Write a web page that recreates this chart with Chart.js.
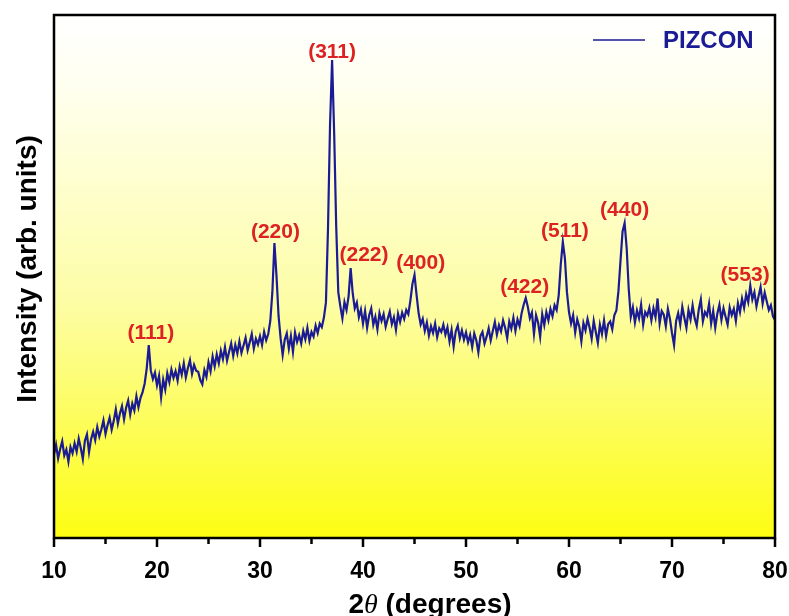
<!DOCTYPE html>
<html>
<head>
<meta charset="utf-8">
<title>PIZCON XRD</title>
<script src="https://cdn.jsdelivr.net/npm/chart.js@4.4.0/dist/chart.umd.min.js"></script>
<style>
  html, body { margin: 0; padding: 0; background: #fff; }
</style>
</head>
<body>
<canvas id="xrdChart" width="789" height="616"></canvas>
<script>
// scan grid (degrees 2-theta)
const twoThetaStart = 10;
const twoThetaStep = 0.2;

// measured intensity, arb. units, one row per 2 degrees
const intensity = [
  16.0, 17.8, 15.2, 17.0, 18.5, 15.8, 16.9, 14.6, 17.4, 16.2,
  18.1, 16.5, 19.0, 17.2, 15.1, 18.6, 19.8, 16.4, 18.9, 20.3,
  18.7, 21.2, 19.4, 20.8, 22.5, 19.9, 21.6, 23.0, 20.7, 22.4,
  24.6, 21.9, 23.8, 25.2, 22.7, 24.9, 26.3, 23.6, 25.7, 24.4,
  27.1, 25.0, 26.8, 27.9, 29.5, 32.4, 36.9, 32.0, 30.4, 31.6,
  29.2, 31.0, 26.9, 30.3, 28.4, 31.5, 29.8, 32.2, 30.6, 31.9,
  30.1, 32.8, 31.2, 33.4, 30.7, 32.5, 34.0, 31.4, 33.1, 32.0,
  31.8, 30.2, 29.4, 32.1, 30.8, 33.6, 31.9, 34.7, 32.8, 35.1,
  33.4, 35.8, 34.2, 36.5, 33.9, 35.6, 37.2, 34.8, 36.9, 35.3,
  37.6, 35.4, 36.8, 38.3, 35.9, 37.4, 39.0, 36.2, 38.1, 37.0,
  38.6, 36.9, 39.4, 37.8, 39.0, 41.5, 47.0, 56.4, 50.2, 42.5,
  38.2, 35.0, 37.9, 39.1, 36.2, 38.6, 35.6, 39.3, 37.5, 38.8,
  37.2, 39.6, 38.0, 40.2, 37.7, 39.4, 38.5, 40.6, 39.2, 41.0,
  40.3, 42.1, 45.0, 59.0, 79.0, 91.4, 77.5, 59.5, 47.0, 44.3,
  42.0, 45.1, 43.6, 46.2, 51.6, 46.8, 43.9, 45.0, 42.2, 43.7,
  41.0, 43.4, 40.2, 42.6, 43.9, 40.8, 42.3, 39.9, 43.0, 41.5,
  42.8, 40.4, 41.9, 43.3, 40.9, 42.2, 39.8, 42.9, 41.3, 43.1,
  41.9, 43.6, 42.8, 45.4, 48.6, 50.3, 46.5, 43.0, 40.8, 41.9,
  39.6, 41.2, 38.7, 40.5, 39.2, 41.0, 38.4, 40.1, 39.4, 40.8,
  38.9, 40.3, 37.6, 39.8, 36.6, 39.5, 40.6, 38.2, 39.7, 37.9,
  39.3, 37.4, 38.8, 36.5, 39.1, 37.8, 35.5, 38.6, 39.4, 37.2,
  38.5, 40.1, 37.8, 39.6, 41.3, 38.9, 40.7, 39.5, 41.6, 40.2,
  38.2, 41.4, 40.0, 42.1, 39.6, 41.8, 40.5, 43.0, 44.6, 45.9,
  44.2, 42.0, 43.1, 39.0, 42.6, 41.2, 38.5, 42.8, 40.7, 43.2,
  41.6, 43.8, 42.4, 44.5, 43.6, 46.4, 52.3, 56.6, 53.5, 47.0,
  43.2, 41.0, 42.6, 39.3, 41.8, 40.4, 37.6, 41.1, 39.7, 41.9,
  40.2, 38.1, 41.5, 39.4, 37.3, 40.8, 39.0, 41.6, 38.6, 40.9,
  41.4, 39.9, 42.6, 43.5, 47.2, 53.0, 58.6, 60.2, 55.4, 47.6,
  42.3, 44.1, 41.2, 43.5, 42.0, 44.6, 40.8, 43.2, 42.5, 44.0,
  41.6, 43.9, 42.2, 45.8, 41.0, 43.4, 42.7, 40.5, 43.8, 41.9,
  39.2, 36.9, 41.5, 43.0, 40.8, 44.2, 42.1, 40.2, 43.6, 41.8,
  44.5, 42.0, 40.6, 43.7, 45.6, 41.4, 43.2, 42.5, 44.8, 41.0,
  43.4, 40.2, 42.9, 44.6, 41.7, 43.9, 42.3, 40.8, 44.1, 42.6,
  43.8, 41.5, 44.9, 43.2, 45.8, 44.0, 46.6, 45.1, 48.3, 45.6,
  47.0, 44.3, 46.2, 48.0, 44.8, 46.9, 45.2, 43.6, 44.5, 42.4,
  41.7
];

// Miller indices of the spinel reflections and where their tags sit
const peakLabels = ["(111)", "(220)", "(311)", "(222)", "(400)", "(422)", "(511)", "(440)", "(553)"];
const peakLabelAngles = [19.4, 31.5, 37.0, 40.1, 45.6, 55.7, 59.6, 65.4, 77.1];
const peakLabelHeights = [39.2, 58.5, 92.9, 54.1, 52.6, 48.0, 58.7, 62.7, 50.3];

const seriesName = "PIZCON";
const xMajorTicks = [10, 20, 30, 40, 50, 60, 70, 80];
const xMinorTicks = [15, 25, 35, 45, 55, 65, 75];

const lineColor = "#1b1b96";
const labelColor = "#dc2222";
const fontFamily = "'Liberation Sans', Arial, sans-serif";

const points = intensity.map((v, i) => ({
  x: +(twoThetaStart + i * twoThetaStep).toFixed(1),
  y: v,
}));

// yellow fade behind the plot
const plotBackground = {
  id: "plotBackground",
  beforeDraw(chart) {
    const { ctx, chartArea: a } = chart;
    const g = ctx.createLinearGradient(0, a.top, 0, a.bottom);
    g.addColorStop(0, "#ffffff");
    g.addColorStop(0.12, "#fffff2");
    g.addColorStop(0.55, "#fdfda6");
    g.addColorStop(1, "#fdfd12");
    ctx.save();
    ctx.fillStyle = g;
    ctx.fillRect(a.left, a.top, a.right - a.left, a.bottom - a.top);
    ctx.restore();
  },
};

// hkl tags above the reflections
const peakTags = {
  id: "peakTags",
  afterDatasetsDraw(chart) {
    const { ctx, scales } = chart;
    ctx.save();
    ctx.fillStyle = labelColor;
    ctx.font = "bold 21px " + fontFamily;
    ctx.textAlign = "center";
    ctx.textBaseline = "middle";
    peakLabels.forEach((t, i) => {
      ctx.fillText(t, scales.x.getPixelForValue(peakLabelAngles[i]), scales.y.getPixelForValue(peakLabelHeights[i]));
    });
    ctx.restore();
  },
};

// box frame, bottom ticks, axis titles and legend
const frameAndTitles = {
  id: "frameAndTitles",
  afterDraw(chart) {
    const { ctx, chartArea: a, scales } = chart;
    ctx.save();
    ctx.strokeStyle = "#000";
    ctx.lineWidth = 2.5;
    ctx.strokeRect(a.left, a.top, a.right - a.left, a.bottom - a.top);

    ctx.beginPath();
    xMajorTicks.forEach((v) => {
      const px = scales.x.getPixelForValue(v);
      ctx.moveTo(px, a.bottom);
      ctx.lineTo(px, a.bottom + 9);
    });
    xMinorTicks.forEach((v) => {
      const px = scales.x.getPixelForValue(v);
      ctx.moveTo(px, a.bottom);
      ctx.lineTo(px, a.bottom + 6);
    });
    ctx.stroke();

    // y title
    ctx.fillStyle = "#000";
    ctx.save();
    ctx.translate(28, 269);
    ctx.rotate(-Math.PI / 2);
    ctx.font = "bold 28px " + fontFamily;
    ctx.textAlign = "center";
    ctx.textBaseline = "middle";
    ctx.fillText("Intensity (arb. units)", 0, 0);
    ctx.restore();

    // x title: 2θ (degrees) with italic theta
    const parts = [
      ["2", "bold 28px " + fontFamily],
      ["\u03b8", "italic 28px 'Liberation Serif', serif"],
      [" (degrees)", "bold 28px " + fontFamily],
    ];
    let total = 0;
    parts.forEach(([t, f]) => { ctx.font = f; total += ctx.measureText(t).width; });
    let x = 430 - total / 2;
    ctx.textAlign = "left";
    ctx.textBaseline = "alphabetic";
    parts.forEach(([t, f]) => {
      ctx.font = f;
      ctx.fillText(t, x, 613);
      x += ctx.measureText(t).width;
    });

    // legend
    ctx.strokeStyle = lineColor;
    ctx.lineWidth = 1.6;
    ctx.beginPath();
    ctx.moveTo(593, 40);
    ctx.lineTo(645, 40);
    ctx.stroke();
    ctx.fillStyle = lineColor;
    ctx.font = "bold 24px " + fontFamily;
    ctx.textBaseline = "middle";
    ctx.fillText(seriesName, 663, 41);
    ctx.restore();
  },
};

const ctx = document.getElementById("xrdChart").getContext("2d");
const xrdChart = new Chart(ctx, {
  type: "line",
  data: {
    datasets: [
      {
        label: seriesName,
        data: points,
        borderColor: lineColor,
        borderWidth: 2.2,
        pointRadius: 0,
        tension: 0,
        fill: false,
      },
    ],
  },
  options: {
    responsive: false,
    animation: false,
    devicePixelRatio: 1,
    layout: { padding: { left: 0, right: 14, top: 15, bottom: 0 } },
    plugins: {
      legend: { display: false },
      tooltip: { enabled: false },
    },
    scales: {
      x: {
        type: "linear",
        min: 10,
        max: 80,
        grid: { display: false, drawTicks: false },
        border: { display: false },
        ticks: {
          stepSize: 10,
          padding: 20,
          color: "#000",
          font: { family: fontFamily, size: 23, weight: "bold" },
        },
        afterFit(scale) {
          scale.height = 78;
          scale.paddingLeft = 0;
          scale.paddingRight = 0;
        },
      },
      y: {
        min: 0,
        max: 100,
        grid: { display: false, drawTicks: false },
        border: { display: false },
        ticks: { display: false },
        afterFit(scale) { scale.width = 54; },
      },
    },
  },
  plugins: [plotBackground, peakTags, frameAndTitles],
});
</script>
</body>
</html>
